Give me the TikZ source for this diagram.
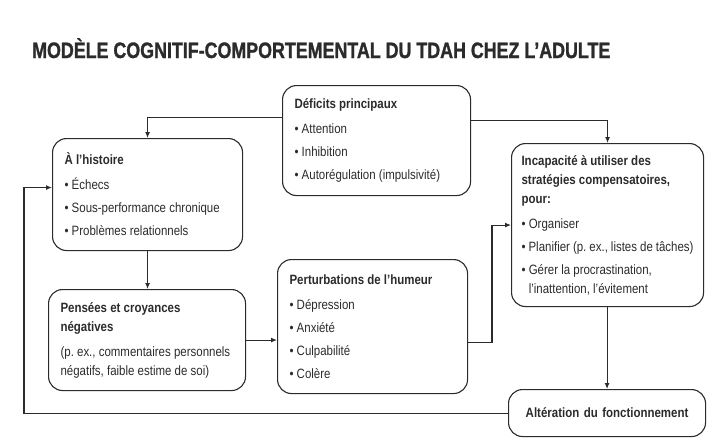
\documentclass[tikz,border=0pt]{standalone}
\usepackage{fontspec}
\setmainfont{Liberation Sans}[FakeStretch=0.85]
\newfontfamily\titrefont{Liberation Sans Bold}[FakeStretch=0.8, FakeBold=1.2]
\usetikzlibrary{arrows.meta}
\definecolor{encre}{HTML}{2B2B2B}
\frenchspacing
\tikzset{
  bloc/.style={draw=encre, line width=1.1pt, rounded corners=14pt, anchor=north west,
    align=flush left, inner xsep=12pt, inner ysep=0pt, text=encre,
    font=\fontsize{13.5}{23}\selectfont},
  fleche/.style={draw=encre, line width=1.1pt, -{Latex[length=6pt,width=5pt]}}
}
\begin{document}
\begin{tikzpicture}[x=1pt,y=-1pt]
    \useasboundingbox (0,0) rectangle (720,442);
    \node[anchor=base west, inner sep=0pt, text=encre,
      font=\titrefont\fontsize{22.3}{24}\selectfont] (titre) at (32,58)
    {MODÈLE COGNITIF-COMPORTEMENTAL DU TDAH CHEZ L’ADULTE};
    \node[bloc, text width=164, minimum height=110] (deficits) at (282,85)
    {\textbf{Déficits principaux}\\[2pt] • Attention\\ • Inhibition\\ • Autorégulation (impulsivité)};
    \node[bloc, text width=166, minimum height=112] (histoire) at (52,138)
    {\textbf{À l’histoire}\\[2pt] • Échecs\\ • Sous-performance chronique\\ • Problèmes relationnels};
    \node[bloc, inner xsep=10pt, text width=172, minimum height=163] (incapacite) at (511,143)
    {\textbf{Incapacité à utiliser des}\\[-4pt] \textbf{stratégies compensatoires,}\\[-4pt] \textbf{pour:}\\[2pt]
     • Organiser\\ • Planifier (p. ex., listes de tâches)\\ • Gérer la procrastination,\\[-4pt]
     \phantom{• }l’inattention, l’évitement};
    \node[bloc, text width=173, minimum height=101] (pensees) at (48,289)
    {\textbf{Pensées et croyances}\\[-4pt] \textbf{négatives}\\[2pt] (p. ex., commentaires personnels\\[-4pt] négatifs, faible estime de soi)};
    \node[bloc, text width=166, minimum height=134] (humeur) at (277,259)
    {\textbf{Perturbations de l’humeur}\\[2pt] • Dépression\\ • Anxiété\\ • Culpabilité\\ • Colère};
    \node[bloc, text width=173, minimum height=47, align=center] (alteration) at (508,389)
    {\textbf{Altération du fonctionnement}};
    \coordinate (retour) at (24,0); \coordinate (relais) at (492,0);
    \draw[fleche] ([yshift=23pt]deficits.west) -| (histoire.north);
    \draw[fleche] ([yshift=20pt]deficits.east) -| (incapacite.north);
    \draw[fleche] (histoire.south) -- (histoire.south |- pensees.north);
    \draw[fleche] (pensees.east) -- (pensees.east -| humeur.west);
    \draw[fleche] ([yshift=-16pt]humeur.east) -| (relais |- incapacite.west) -- (incapacite.west);
    \draw[fleche] (alteration.north |- incapacite.south) -- (alteration.north);
    \draw[fleche] (alteration.west) -- (alteration.west -| retour) |- ([yshift=7pt]histoire.west);
\end{tikzpicture}
\end{document}
